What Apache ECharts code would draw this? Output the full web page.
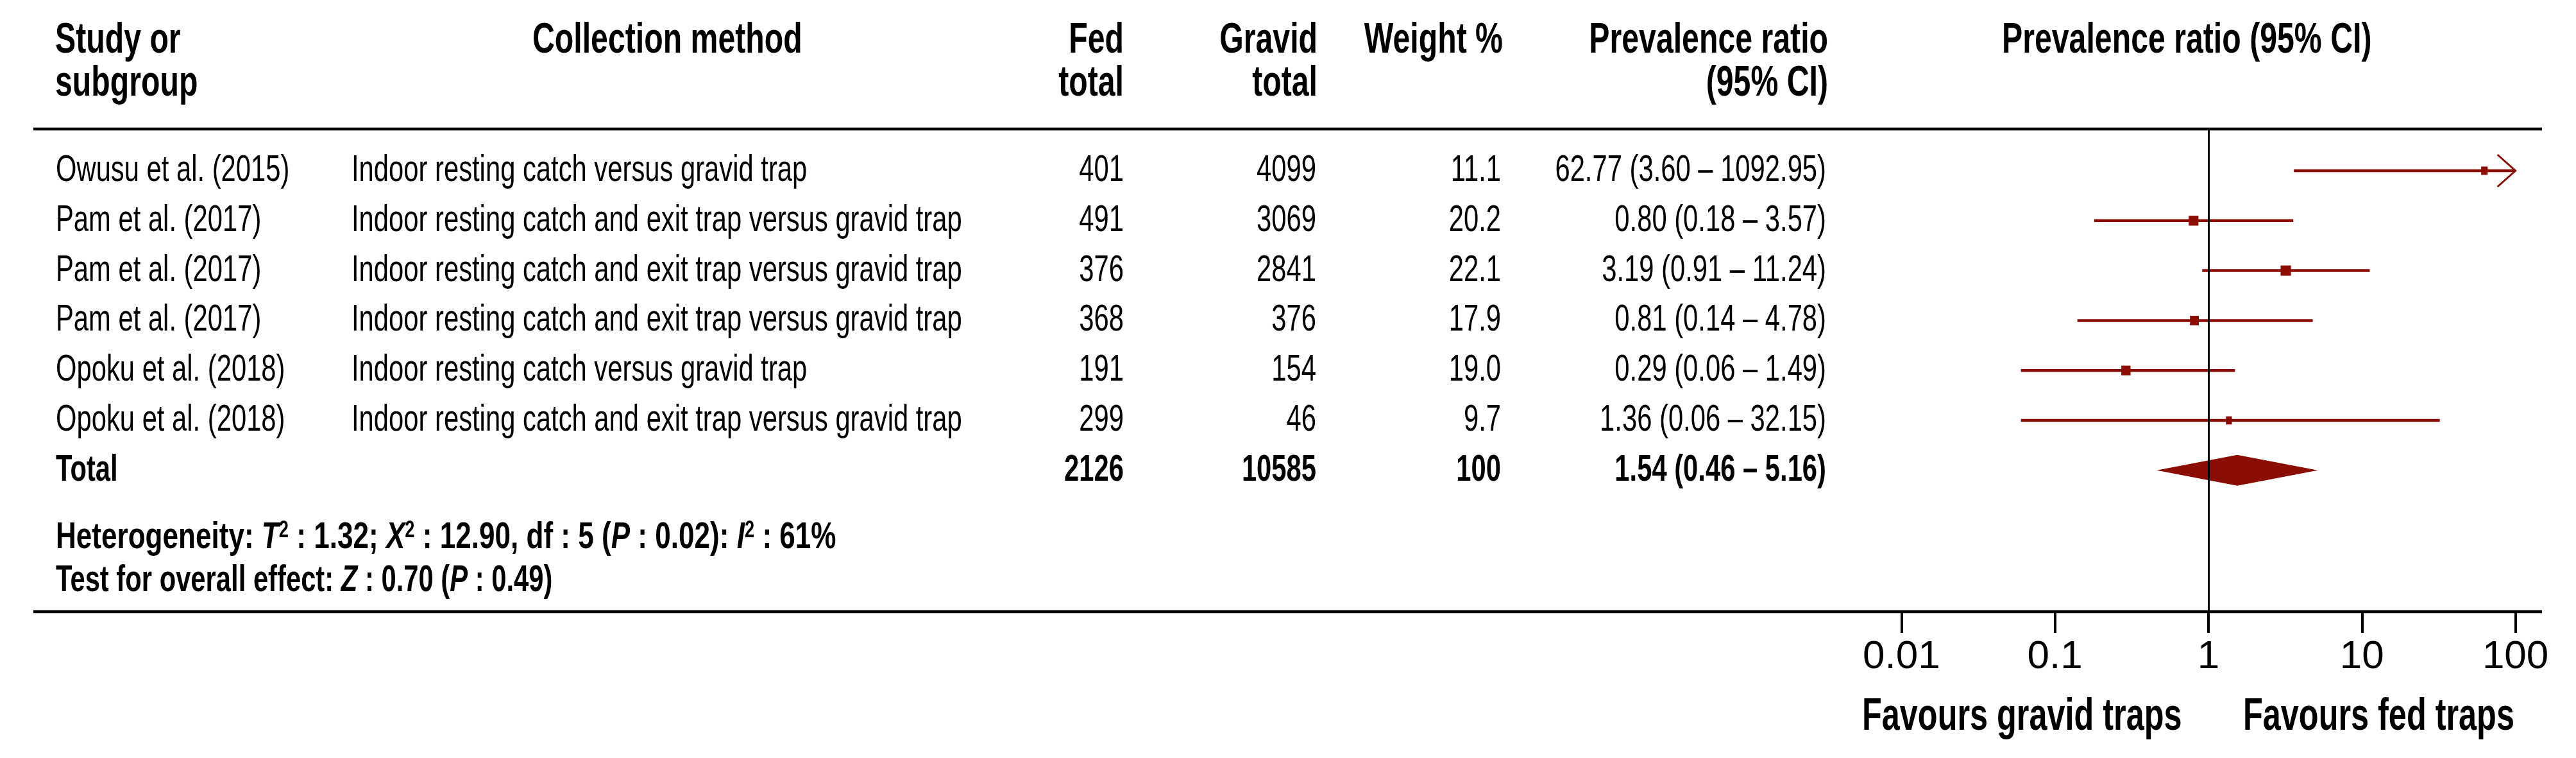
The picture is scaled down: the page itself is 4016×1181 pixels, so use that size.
<!DOCTYPE html>
<html>
<head>
<meta charset="utf-8">
<script src="https://cdn.jsdelivr.net/npm/echarts@6/dist/echarts.min.js"></script>
<style>
  html, body { margin: 0; padding: 0; background: #fff; }
  #chart { width: 4016px; height: 1181px; }
</style>
</head>
<body>
<div id="chart"></div>
<script>
// ---- data ----
const studies = ['Owusu et al. (2015)', 'Pam et al. (2017)', 'Pam et al. (2017)', 'Pam et al. (2017)',
  'Opoku et al. (2018)', 'Opoku et al. (2018)', 'Total'];
const methods = ['Indoor resting catch versus gravid trap',
  'Indoor resting catch and exit trap versus gravid trap',
  'Indoor resting catch and exit trap versus gravid trap',
  'Indoor resting catch and exit trap versus gravid trap',
  'Indoor resting catch versus gravid trap',
  'Indoor resting catch and exit trap versus gravid trap',
  ''];
const fedTotal = [401, 491, 376, 368, 191, 299, 2126];
const gravidTotal = [4099, 3069, 2841, 376, 154, 46, 10585];
const weights = [11.1, 20.2, 22.1, 17.9, 19.0, 9.7, 100];
const ratios = [62.77, 0.80, 3.19, 0.81, 0.29, 1.36, 1.54];
const ciLow = [3.60, 0.18, 0.91, 0.14, 0.06, 0.06, 0.46];
const ciHigh = [1092.95, 3.57, 11.24, 4.78, 1.49, 32.15, 5.16];
const axisTicks = [0.01, 0.1, 1, 10, 100];

// ---- layout ----
const ROW_Y0 = 266;
const ROW_STEP = 77.8;
const PLOT_TOP = 201;
const PLOT_BOTTOM = 953;
const yMin = (PLOT_TOP - ROW_Y0) / ROW_STEP;
const yMax = (PLOT_BOTTOM - ROW_Y0) / ROW_STEP;
const FONT = '"Liberation Sans", Arial, sans-serif';
const SX = 0.72;
const RED = '#8b0e04';
const INK = '#000';

const fmt2 = (v) => v.toFixed(2);
const last = studies.length - 1;

// table columns: [x, align, text getter]
const columns = [
  [87, 'left', (i) => studies[i]],
  [548, 'left', (i) => methods[i]],
  [1752, 'right', (i) => String(fedTotal[i])],
  [2052, 'right', (i) => String(gravidTotal[i])],
  [2340, 'right', (i) => (i === last ? String(weights[i]) : weights[i].toFixed(1))],
  [2847, 'right', (i) => `${fmt2(ratios[i])} (${fmt2(ciLow[i])} – ${fmt2(ciHigh[i])})`],
];

function txt(text, x, y, align, font, extra) {
  return Object.assign({
    type: 'text', x, y, scaleX: SX, silent: true,
    style: { text, fill: INK, font, align, verticalAlign: 'middle' },
  }, extra || {});
}

const headFont = `bold 67px ${FONT}`;
const headers = [
  txt('Study or', 86, 64, 'left', headFont),
  txt('subgroup', 86, 131, 'left', headFont),
  txt('Collection method', 830, 64, 'left', headFont),
  txt('Fed', 1752, 64, 'right', headFont),
  txt('total', 1752, 131, 'right', headFont),
  txt('Gravid', 2054, 64, 'right', headFont),
  txt('total', 2054, 131, 'right', headFont),
  txt('Weight %', 2343, 64, 'right', headFont),
  txt('Prevalence ratio', 2850, 64, 'right', headFont),
  txt('(95% CI)', 2850, 131, 'right', headFont),
  txt('Prevalence ratio (95% CI)', 3121, 64, 'left', headFont),
];

const footRich = {
  i: { fontStyle: 'italic', fontWeight: 'bold', fontSize: 58, fontFamily: FONT },
  s: { fontWeight: 'bold', fontSize: 36, fontFamily: FONT, verticalAlign: 'top', lineHeight: 58 },
};
const footers = [
  {
    type: 'text', x: 87, y: 838, scaleX: 0.76, silent: true,
    style: {
      text: 'Heterogeneity: {i|T}{s|2} : 1.32; {i|X}{s|2} : 12.90, df : 5 ({i|P} : 0.02): {i|I}{s|2} : 61%',
      rich: footRich, fill: INK, font: `bold 58px ${FONT}`, align: 'left', verticalAlign: 'middle',
    },
  },
  {
    type: 'text', x: 87, y: 905, scaleX: SX, silent: true,
    style: {
      text: 'Test for overall effect: {i|Z} : 0.70 ({i|P} : 0.49)',
      rich: footRich, fill: INK, font: `bold 58px ${FONT}`, align: 'left', verticalAlign: 'middle',
    },
  },
  txt('Favours gravid traps', 2903, 1118, 'left', `bold 70px ${FONT}`),
  txt('Favours fed traps', 3497, 1118, 'left', `bold 70px ${FONT}`),
];

const rules = [PLOT_TOP, PLOT_BOTTOM].map((y) => ({
  type: 'line', silent: true,
  shape: { x1: 52, y1: y, x2: 3963, y2: y },
  style: { stroke: INK, lineWidth: 4.5 },
}));

function renderTable(params, api) {
  const i = params.dataIndex;
  const y = api.coord([0, i])[1];
  const font = i === last ? `bold 58px ${FONT}` : `58px ${FONT}`;
  return {
    type: 'group',
    children: columns.map(([x, align, get]) => txt(get(i), x, y, align, font)),
  };
}

function renderForest(params, api) {
  const i = params.dataIndex;
  const est = api.value(0);
  const lo = api.value(1);
  const hi = api.value(2);
  const row = api.value(3);
  const w = api.value(4);
  const axisMax = axisTicks[axisTicks.length - 1];
  const pe = api.coord([est, row]);
  const pl = api.coord([lo, row]);
  const ph = api.coord([Math.min(hi, axisMax), row]);
  const y = pe[1];
  if (i === last) {
    return {
      type: 'polygon',
      shape: { points: [[pl[0], y], [pe[0], y - 24], [ph[0], y], [pe[0], y + 24]] },
      style: { fill: RED },
    };
  }
  const bw = 4 + 0.55 * w;
  const bh = 10 + 0.27 * w;
  const children = [
    { type: 'line', shape: { x1: pl[0], y1: y, x2: ph[0], y2: y }, style: { stroke: RED, lineWidth: 4.5 } },
    { type: 'rect', shape: { x: pe[0] - bw / 2, y: y - bh / 2, width: bw, height: bh }, style: { fill: RED } },
  ];
  if (hi > axisMax) {
    children.push({
      type: 'polyline',
      shape: { points: [[ph[0] - 28, y - 25], [ph[0], y], [ph[0] - 28, y + 25]] },
      style: { stroke: RED, lineWidth: 3, fill: null },
    });
  }
  return { type: 'group', children };
}

const chart = echarts.init(document.getElementById('chart'), null, { renderer: 'canvas' });

const option = {
  backgroundColor: '#fff',
  animation: false,
  grid: [
    { left: 0, width: 2900, top: PLOT_TOP, height: PLOT_BOTTOM - PLOT_TOP },
    { left: 2964.4, width: 957.2, top: PLOT_TOP, height: PLOT_BOTTOM - PLOT_TOP },
  ],
  xAxis: [
    { gridIndex: 0, type: 'value', min: 0, max: 1, show: false },
    {
      gridIndex: 1, type: 'log', logBase: 10, position: 'bottom',
      min: axisTicks[0], max: axisTicks[axisTicks.length - 1],
      axisLine: { show: false, onZero: false },
      axisTick: { show: true, length: 33, lineStyle: { color: INK, width: 4 } },
      splitLine: { show: false },
      axisLabel: {
        margin: 40, fontSize: 62, fontFamily: 'Liberation Sans', color: INK,
        formatter: (v) => String(axisTicks.find((t) => Math.abs(Math.log10(t) - Math.log10(v)) < 1e-6) ?? v),
      },
    },
  ],
  yAxis: [
    { gridIndex: 0, type: 'value', inverse: true, min: yMin, max: yMax, show: false },
    { gridIndex: 1, type: 'value', inverse: true, min: yMin, max: yMax, show: false },
  ],
  series: [
    {
      type: 'custom', name: 'table', xAxisIndex: 0, yAxisIndex: 0,
      data: studies.map((_, i) => [0, i]),
      renderItem: renderTable, silent: true, clip: false,
    },
    {
      type: 'custom', name: 'forest', xAxisIndex: 1, yAxisIndex: 1,
      data: ratios.map((r, i) => [r, ciLow[i], ciHigh[i], i, weights[i]]),
      encode: { x: [0, 1, 2], y: 3 },
      renderItem: renderForest, silent: true, clip: false,
      markLine: {
        silent: true, symbol: ['none', 'none'],
        label: { show: false },
        lineStyle: { color: INK, width: 3, type: 'solid' },
        data: [{ xAxis: 1 }],
      },
    },
  ],
  graphic: [...rules, ...headers, ...footers],
};

chart.setOption(option);
</script>
</body>
</html>
